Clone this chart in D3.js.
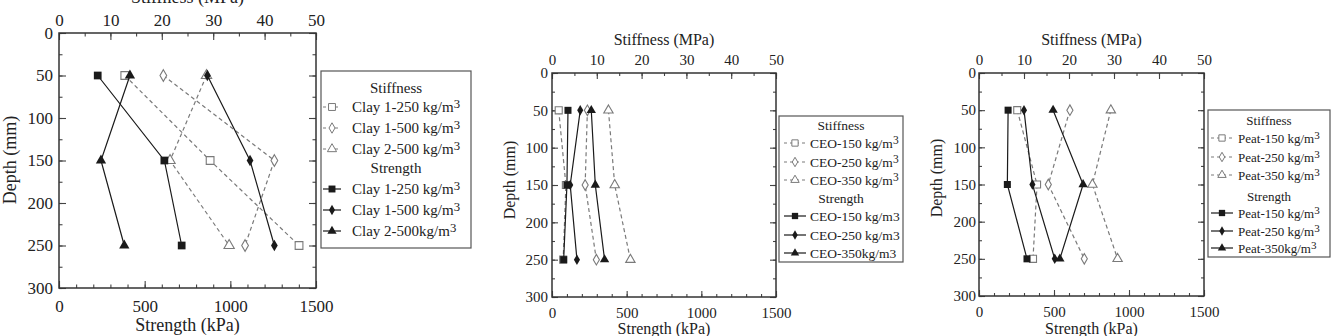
<!DOCTYPE html>
<html>
<head>
<meta charset="utf-8">
<script src="https://cdn.jsdelivr.net/npm/d3@7"></script>
<style>
  body { margin: 0; background: #fff; }
  svg text { font-family: "Liberation Serif", "DejaVu Serif", serif; fill: #222; }
</style>
</head>
<body>
<svg id="chart" width="1344" height="336"></svg>
<script>
// Дані
const depths = [50, 150, 250];
const depthTicks = [0, 50, 100, 150, 200, 250, 300];
const stiffnessTicks = [0, 10, 20, 30, 40, 50];
const strengthTicks = [0, 500, 1000, 1500];

// Глина
const clayStiffLabels = ["Clay 1-250 kg/m", "Clay 1-500 kg/m", "Clay 2-500 kg/m"];
const clayStrengthLabels = ["Clay 1-250 kg/m", "Clay 1-500 kg/m", "Clay 2-500kg/m"];
const clayStiffness = [[12.8, 29.4, 46.7], [20.3, 41.9, 36.2], [28.7, 21.6, 33.1]];
const clayStrength = [[226, 615, 716], [866, 1115, 1257], [414, 245, 381]];

// CEO
const ceoStiffLabels = ["CEO-150 kg/m", "CEO-250 kg/m", "CEO-350 kg/m"];
const ceoStrengthLabels = ["CEO-150 kg/m", "CEO-250 kg/m", "CEO-350kg/m"];
const ceoStiffness = [[1.5, 3.1, 2.5], [7.9, 7.4, 9.9], [12.6, 14.0, 17.5]];
const ceoStrength = [[107, 100, 78], [189, 122, 167], [263, 290, 352]];

// Торф
const peatStiffLabels = ["Peat-150 kg/m", "Peat-250 kg/m", "Peat-350 kg/m"];
const peatStrengthLabels = ["Peat-150 kg/m", "Peat-250 kg/m", "Peat-350kg/m"];
const peatStiffness = [[8.5, 12.9, 12.0], [20.2, 15.4, 23.4], [29.3, 25.2, 30.8]];
const peatStrength = [[194, 189, 320], [300, 356, 505], [494, 694, 539]];

const svg = d3.select("#chart");
const shapes = [d3.symbolSquare, d3.symbolDiamond, d3.symbolTriangle];
const shapeSize = [52, 34, 40];

const stiffColor = "#7a7a7a";
const strengthColor = "#1a1a1a";
const serif = "Liberation Serif, DejaVu Serif, serif";

function marker(shapeIdx, k) {
  return d3.symbol().type(shapes[shapeIdx]).size(shapeSize[shapeIdx] * k)();
}

function drawPanel(p) {
  const g = svg.append("g");
  const x = d3.scaleLinear().domain([0, 1500]).range([p.left, p.right]);
  const xs = d3.scaleLinear().domain([0, 50]).range([p.left, p.right]);
  const y = d3.scaleLinear().domain([0, 300]).range([p.top, p.bottom]);

  // Осі: дрібні та основні поділки всередину
  const axes = [
    [d3.axisBottom(x).tickValues(d3.range(0, 1501, 100)), `translate(0,${p.bottom})`, false],
    [d3.axisTop(xs).tickValues(d3.range(0, 51, 5)), `translate(0,${p.top})`, false],
    [d3.axisLeft(y).tickValues(d3.range(0, 301, 25)), `translate(${p.left},0)`, false],
    [d3.axisRight(y).tickValues(d3.range(0, 301, 25)), `translate(${p.right},0)`, false],
    [d3.axisBottom(x).tickValues(strengthTicks).tickPadding(p.padB), `translate(0,${p.bottom})`, true],
    [d3.axisTop(xs).tickValues(stiffnessTicks).tickPadding(p.padT), `translate(0,${p.top})`, true],
    [d3.axisLeft(y).tickValues(depthTicks).tickPadding(p.padL), `translate(${p.left},0)`, true],
    [d3.axisRight(y).tickValues(depthTicks), `translate(${p.right},0)`, false]
  ];
  axes.forEach(([ax, tr, labels], i) => {
    const major = i >= 4;
    ax.tickSize(major ? -p.tick : -p.tick / 2).tickSizeOuter(0);
    ax.tickFormat(labels ? d3.format("d") : "");
    const a = g.append("g").attr("transform", tr).call(ax)
      .attr("font-family", serif);
    a.select(".domain").remove();
    a.selectAll("line").attr("stroke", "#444").attr("stroke-width", 1.1);
    a.selectAll("text").attr("font-size", p.tickFont).attr("fill", "#222");
  });

  g.append("rect")
    .attr("x", p.left).attr("y", p.top)
    .attr("width", p.right - p.left).attr("height", p.bottom - p.top)
    .attr("fill", "none").attr("stroke", "#333").attr("stroke-width", 1.5);

  // Назви осей
  const cx = (p.left + p.right) / 2;
  g.append("text").attr("x", cx).attr("y", p.titleTopY).attr("text-anchor", "middle")
    .attr("font-size", p.titleFont).text("Stiffness (MPa)");
  g.append("text").attr("x", cx).attr("y", p.titleBotY).attr("text-anchor", "middle")
    .attr("font-size", p.titleFont).text("Strength (kPa)");
  g.append("text").attr("transform", `translate(${p.depthX},${p.depthY}) rotate(-90)`)
    .attr("text-anchor", "middle").attr("font-size", p.titleFont).text("Depth (mm)");

  const lineStiff = d3.line().x((d) => xs(d[0])).y((d) => y(d[1]));
  const lineStr = d3.line().x((d) => x(d[0])).y((d) => y(d[1]));

  // Жорсткість (пунктир, порожні маркери)
  p.stiffness.forEach((vals, i) => {
    const pts = vals.map((v, j) => [v, depths[j]]);
    g.append("path").datum(pts).attr("d", lineStiff)
      .attr("fill", "none").attr("stroke", stiffColor).attr("stroke-width", 1.2)
      .attr("stroke-dasharray", "4,3");
    g.selectAll(null).data(pts).enter().append("path")
      .attr("transform", (d) => `translate(${xs(d[0])},${y(d[1])})`)
      .attr("d", marker(i, p.mk))
      .attr("fill", "#fff").attr("stroke", stiffColor).attr("stroke-width", 1.1);
  });

  // Міцність (суцільні лінії, заповнені маркери)
  p.strength.forEach((vals, i) => {
    const pts = vals.map((v, j) => [v, depths[j]]);
    g.append("path").datum(pts).attr("d", lineStr)
      .attr("fill", "none").attr("stroke", strengthColor).attr("stroke-width", 1.2);
    g.selectAll(null).data(pts).enter().append("path")
      .attr("transform", (d) => `translate(${x(d[0])},${y(d[1])})`)
      .attr("d", marker(i, p.mk))
      .attr("fill", strengthColor);
  });

  // Легенда
  const L = p.legend;
  g.append("rect").attr("x", L.x0).attr("y", L.y0)
    .attr("width", L.x1 - L.x0).attr("height", L.y1 - L.y0)
    .attr("fill", "#fff").attr("stroke", "#555").attr("stroke-width", 1.2);
  const lcx = (L.x0 + L.x1) / 2;
  g.append("text").attr("x", lcx).attr("y", L.rows[0]).attr("dy", "0.35em")
    .attr("text-anchor", "middle").attr("font-size", L.font).text("Stiffness");
  g.append("text").attr("x", lcx).attr("y", L.rows[4]).attr("dy", "0.35em")
    .attr("text-anchor", "middle").attr("font-size", L.font).text("Strength");

  const items = [
    ...p.stiffLabels.map((t, i) => ({ t, i, stiff: true, row: L.rows[1 + i], sup: true })),
    ...p.strengthLabels.map((t, i) => ({ t, i, stiff: false, row: L.rows[5 + i], sup: L.supStrength }))
  ];
  items.forEach((it) => {
    g.append("line").attr("x1", L.sx0).attr("x2", L.sx1).attr("y1", it.row).attr("y2", it.row)
      .attr("stroke", it.stiff ? stiffColor : strengthColor).attr("stroke-width", 1.2)
      .attr("stroke-dasharray", it.stiff ? "3,3" : null);
    g.append("path").attr("transform", `translate(${(L.sx0 + L.sx1) / 2},${it.row})`)
      .attr("d", marker(it.i, p.mk * 0.8))
      .attr("fill", it.stiff ? "#fff" : strengthColor)
      .attr("stroke", it.stiff ? stiffColor : "none").attr("stroke-width", 1);
    const tx = g.append("text").attr("x", L.tx).attr("y", it.row).attr("dy", "0.35em")
      .attr("font-size", L.font);
    tx.append("tspan").text(it.t);
    if (it.sup) {
      tx.append("tspan").attr("dy", "-0.35em").attr("font-size", L.font * 0.85).text("3");
    } else {
      tx.append("tspan").text("3");
    }
  });
}

drawPanel({
  left: 59, right: 316, top: 33, bottom: 288, tick: 7,
  tickFont: 17, titleFont: 18, padB: 12, padT: 7, padL: 6,
  titleTopY: 3, titleBotY: 331, depthX: 16, depthY: 160, mk: 1.15,
  stiffness: clayStiffness, strength: clayStrength,
  stiffLabels: clayStiffLabels, strengthLabels: clayStrengthLabels,
  legend: { x0: 321, x1: 471, y0: 71, y1: 248, sx0: 323, sx1: 341, tx: 352, font: 15,
    rows: [88, 107, 128, 149, 168, 189, 210, 231], supStrength: true }
});

drawPanel({
  left: 552, right: 776, top: 73, bottom: 297, tick: 6,
  tickFont: 15, titleFont: 16, padB: 10, padT: 8, padL: 4,
  titleTopY: 45, titleBotY: 334, depthX: 515, depthY: 180, mk: 0.95,
  stiffness: ceoStiffness, strength: ceoStrength,
  stiffLabels: ceoStiffLabels, strengthLabels: ceoStrengthLabels,
  legend: { x0: 779, x1: 903, y0: 116, y1: 262, sx0: 784, sx1: 806, tx: 810, font: 13.5,
    rows: [125, 143, 162, 180, 198, 216, 235, 253], supStrength: false }
});

drawPanel({
  left: 979, right: 1204, top: 73, bottom: 296, tick: 6,
  tickFont: 15, titleFont: 16, padB: 10, padT: 8, padL: 3,
  titleTopY: 45, titleBotY: 334, depthX: 942, depthY: 178, mk: 0.95,
  stiffness: peatStiffness, strength: peatStrength,
  stiffLabels: peatStiffLabels, strengthLabels: peatStrengthLabels,
  legend: { x0: 1208, x1: 1330, y0: 110, y1: 257, sx0: 1211, sx1: 1233, tx: 1238, font: 13,
    rows: [120, 138, 157, 175, 196, 213, 231, 248], supStrength: true }
});
</script>
</body>
</html>
